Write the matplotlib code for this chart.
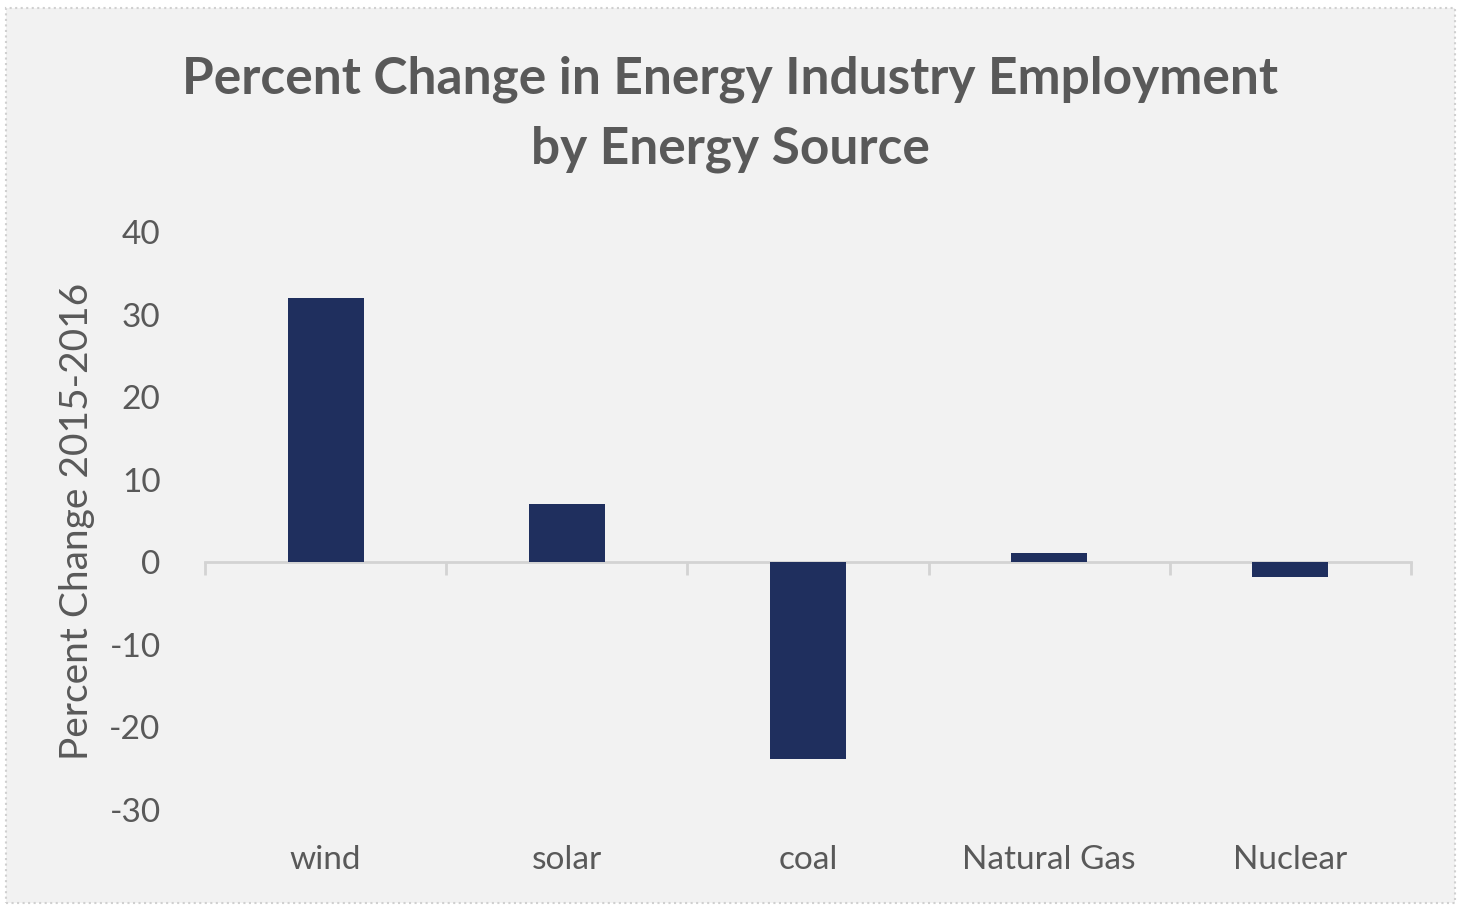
import numpy as np
import matplotlib.pyplot as plt
from matplotlib.patches import Rectangle

sources = ['wind', 'solar', 'coal', 'Natural Gas', 'Nuclear']
pct_change = [32, 7, -23.8, 1.1, -1.8]
y_ticks = [-30, -20, -10, 0, 10, 20, 30, 40]

plt.rcParams['font.family'] = ['Lato', 'DejaVu Sans']
text_col = '#595959'
bar_col = '#1f2f5e'
bg = '#f2f2f2'

fig = plt.figure(figsize=(14.63, 9.05), dpi=100)
fig.patch.set_facecolor('white')
fig.patches.append(Rectangle((6 / 1463, 2 / 905), 1449 / 1463, 895 / 905,
                             transform=fig.transFigure, facecolor=bg,
                             edgecolor='#d0d0d0', linewidth=1.5, linestyle=':', zorder=-1))

ax = fig.add_axes([205 / 1463, 1 - 810 / 905, 1206 / 1463, 578 / 905])
ax.set_facecolor(bg)

x = np.arange(len(sources))
ax.bar(x, pct_change, width=0.315, color=bar_col, zorder=3)

ax.set_xlim(-0.5, len(sources) - 0.5)
ax.set_ylim(-30, 40)
ax.set_yticks(y_ticks)
ax.set_yticklabels([str(v) for v in y_ticks], fontsize=24, color=text_col)
ax.tick_params(axis='y', length=0, pad=32)

for s in ['top', 'right', 'left']:
    ax.spines[s].set_visible(False)
ax.spines['bottom'].set_position(('data', 0))
ax.spines['bottom'].set_color('#d3d3d3')
ax.spines['bottom'].set_linewidth(2)
ax.spines['bottom'].set_zorder(2)
ax.set_xticks(np.arange(len(sources) + 1) - 0.5)
ax.set_xticklabels([])
ax.tick_params(axis='x', length=9, width=2, color='#d3d3d3', direction='out')

for i, name in enumerate(sources):
    ax.text(i, -0.087, name, transform=ax.get_xaxis_transform(), ha='center', va='center',
            fontsize=24, color=text_col)

ax.set_ylabel('Percent Change 2015-2016', fontsize=28, color=text_col, labelpad=10)

fig.text(730 / 1463, 1 - 114 / 905, 'Percent Change in Energy Industry Employment\nby Energy Source',
         ha='center', va='center', fontsize=37, fontweight='bold', color=text_col, linespacing=1.6)

fig.savefig('out.png', dpi=100, facecolor=fig.get_facecolor())
